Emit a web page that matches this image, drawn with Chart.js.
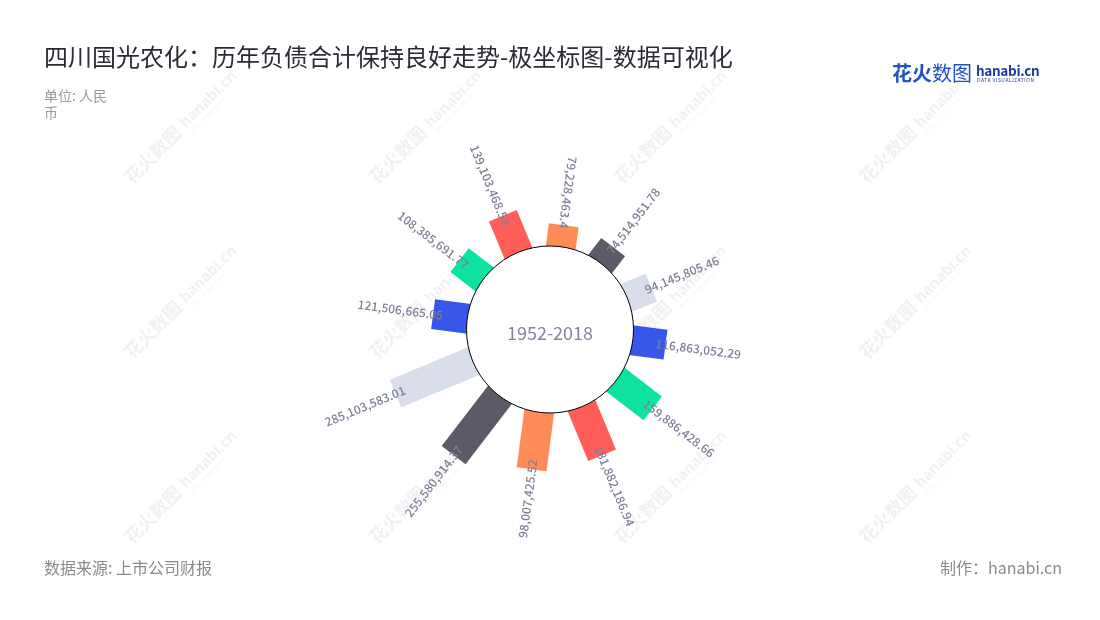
<!DOCTYPE html>
<html>
<head>
<meta charset="utf-8">
<script src="https://cdn.jsdelivr.net/npm/chart.js@4/dist/chart.umd.min.js"></script>
<style>
  body { margin: 0; background: #fff; }
  #wrap { position: relative; width: 1100px; height: 620px; font-family: "Noto Sans CJK SC", "Noto Sans", sans-serif; }
  #wrap canvas { position: absolute; left: 0; top: 0; }
  .t { position: absolute; white-space: nowrap; }
</style>
</head>
<body>
<div id="wrap">
  <canvas id="c" width="1100" height="620"></canvas>
  <div class="t" style="left:44px;top:38px;font-size:24px;color:#2b2b36;">四川国光农化：历年负债合计保持良好走势-极坐标图-数据可视化</div>
  <div class="t" style="left:44px;top:87px;font-size:14px;line-height:17px;color:#9a9a9a;">单位: 人民<br>币</div>
  <div class="t" style="left:44px;top:555px;font-size:16px;color:#8a8a8a;">数据来源: 上市公司财报</div>
  <div class="t" style="right:38px;top:555px;font-size:16px;color:#8a8a8a;">制作：hanabi.cn</div>
  <div class="t" style="left:892px;top:58px;font-size:20px;color:#2452c4;"><b>花火</b>数图</div>
  <div class="t" style="left:976px;top:60px;font-size:13.5px;font-weight:bold;color:#1c3d98;letter-spacing:-0.3px;">hanabi.cn</div>
  <div class="t" style="left:977px;top:76px;font-size:5px;color:#1c3d98;letter-spacing:0.5px;">DATA VISUALIZATION</div>
</div>
<script>
// values read clockwise from the top of the ring (yuan)
const categories = ['1', '2', '3', '4', '5', '6', '7', '8', '9', '10', '11', '12']
const values = [79228463.4, 74514951.78, 94145805.46, 116863052.29, 159886428.66, 181882186.94,
  198007425.52, 255580914.37, 285103583.01, 121506665.05, 108385691.77, 139103468.59]
const centerLabel = '1952-2018'
const palette = ['#ff8c57', '#5b5b67', '#d9deea', '#3856ea', '#0ce3a0', '#ff5d57']

const U = 3.32e6          // yuan per pixel on both axes
const INNER = 270e6       // bars start here (under the ring)
const RING = 83.5 * U     // white ring radius
const GAP = 33 * U        // label centre beyond bar end
const START = 7.5         // degrees, clockwise from top
const CX = 550, CY = 329.5

const fmt = v => v.toLocaleString('en-US', { maximumFractionDigits: 2 })
const ang = i => (START + i * 360 / values.length) * Math.PI / 180
const pt = (i, r) => ({ x: r * Math.sin(ang(i)), y: r * Math.cos(ang(i)) })

const datasets = values.map((v, i) => ({
  label: categories[i],
  data: [pt(i, INNER), pt(i, INNER + v)],
  showLine: true,
  borderColor: palette[i % palette.length],
  borderWidth: 30,
  borderCapStyle: 'butt',
  pointRadius: 0
}))

const watermark = {
  id: 'watermark',
  beforeDraw(chart) {
    const ctx = chart.ctx
    ctx.save()
    ctx.fillStyle = 'rgba(0,0,0,0.055)'
    for (const y of [185, 360, 545]) {
      for (const x of [132, 377, 622, 867]) {
        ctx.save()
        ctx.translate(x, y)
        ctx.rotate(-Math.PI / 4)
        ctx.font = 'bold 18px "Noto Sans CJK SC"'
        ctx.textBaseline = 'alphabetic'
        ctx.fillText('花火数图', 0, 0)
        ctx.font = 'bold 15px "Noto Sans"'
        ctx.fillText('hanabi.cn', 78, -2)
        ctx.font = '5px "Noto Sans"'
        ctx.fillText('DATA VISUALIZATION', 79, 6)
        ctx.restore()
      }
    }
    ctx.restore()
  }
}

const ringAndLabels = {
  id: 'ringAndLabels',
  afterDatasetsDraw(chart) {
    const ctx = chart.ctx
    const xs = chart.scales.x, ys = chart.scales.y
    const cx = xs.getPixelForValue(0), cy = ys.getPixelForValue(0)
    const r = xs.getPixelForValue(RING) - cx
    ctx.save()
    ctx.beginPath()
    ctx.arc(cx, cy, r, 0, Math.PI * 2)
    ctx.fillStyle = '#fff'
    ctx.fill()
    ctx.lineWidth = 1
    ctx.strokeStyle = '#000'
    ctx.stroke()
    ctx.fillStyle = '#84859b'
    ctx.font = '18px "Noto Sans CJK SC"'
    ctx.textAlign = 'center'
    ctx.textBaseline = 'middle'
    ctx.fillText(centerLabel, cx, cy + 4)

    ctx.beginPath()
    ctx.rect(0, 0, chart.width, 538)
    ctx.clip()
    ctx.fillStyle = '#7e7f96'
    ctx.font = '500 12px "Noto Sans CJK SC"'
    values.forEach((v, i) => {
      const p = pt(i, INNER + v + GAP)
      const px = xs.getPixelForValue(p.x), py = ys.getPixelForValue(p.y)
      const deg = START + i * 360 / values.length
      let rot = deg - 90
      if (deg < 15 || deg > 180) rot += 180   // keep text readable
      ctx.save()
      ctx.translate(px, py)
      ctx.rotate(rot * Math.PI / 180)
      ctx.fillText(fmt(v), 0, 0)
      ctx.restore()
    })
    ctx.restore()
  }
}

new Chart(document.getElementById('c'), {
  type: 'scatter',
  data: { datasets: datasets },
  options: {
    responsive: false,
    animation: false,
    layout: { padding: 0 },
    plugins: { legend: { display: false }, tooltip: { enabled: false } },
    scales: {
      x: { type: 'linear', display: false, min: -CX * U, max: (1100 - CX) * U },
      y: { type: 'linear', display: false, min: -(620 - CY) * U, max: CY * U }
    }
  },
  plugins: [watermark, ringAndLabels]
})
</script>
</body>
</html>
